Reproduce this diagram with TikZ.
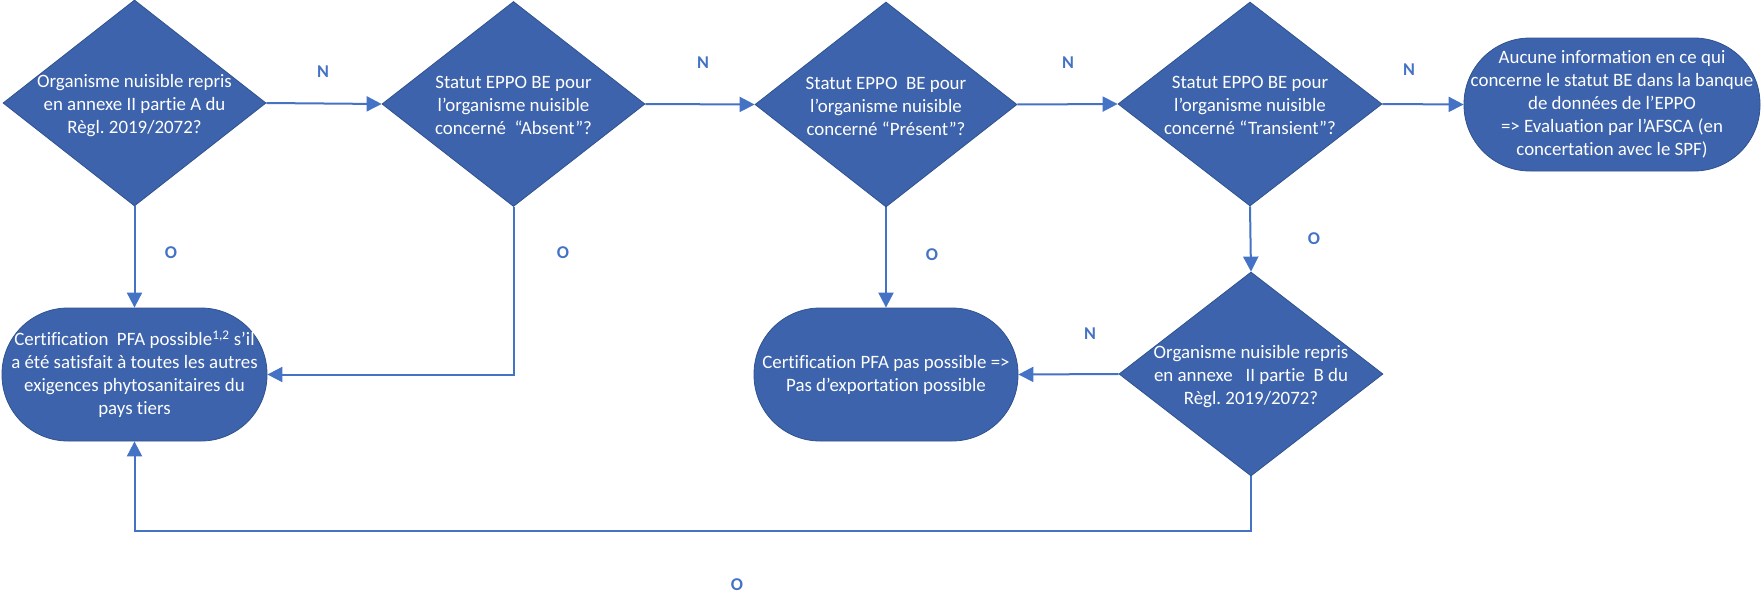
\documentclass[tikz,border=0pt]{standalone}
\usepackage{fontspec}
\setmainfont{Carlito}[Ligatures=NoCommon]
\usetikzlibrary{shapes.geometric,arrows.meta}
\definecolor{shapefill}{HTML}{3D63AC}
\definecolor{shapeline}{HTML}{2F528F}
\definecolor{linkblue}{HTML}{4472C4}
\frenchspacing
\newcommand{\ctext}[1]{\smash{\makebox[0pt]{\raisebox{-7.5pt}{\begin{tabular}{@{}c@{}}#1\end{tabular}}}}}
\tikzset{
  x=1pt, y=-1pt,
  basefont/.style={font=\fontsize{18.9}{23}\selectfont\frenchspacing, text=white},
  decision/.style={shape=diamond, draw=shapeline, line width=0.8pt, fill=shapefill,
    inner sep=0pt, basefont},
  terminal/.style={shape=rectangle, draw=shapeline, line width=0.8pt, fill=shapefill,
    rounded corners=66pt, inner sep=0pt, basefont, align=center},
  link/.style={draw=linkblue, line width=2pt, -{Triangle[width=15pt,length=15pt]}},
  lab/.style={font=\fontsize{18}{20}\selectfont\bfseries, text=linkblue, inner sep=0pt}
}
\begin{document}
\begin{tikzpicture}
\useasboundingbox (0,0) rectangle (1762,597);
% decisions
\node[decision, minimum width=263pt, minimum height=206pt] (d1) at (134.5,103)
  {\ctext{Organisme nuisible repris\\ en annexe II partie A du\\ Règl. 2019/2072?}};
\node[decision, minimum width=263pt, minimum height=205pt] (d2) at (513.5,104)
  {\ctext{Statut EPPO BE pour\\ l’organisme nuisible\\ concerné~~“Absent”?}};
\node[decision, minimum width=262pt, minimum height=205pt] (d3) at (886,104.5)
  {\ctext{Statut EPPO~~BE pour\\ l’organisme nuisible\\ concerné “Présent”?}};
\node[decision, minimum width=264pt, minimum height=204pt] (d4) at (1250,104)
  {\ctext{Statut EPPO BE pour\\ l’organisme nuisible\\ concerné “Transient”?}};
\node[decision, minimum width=264pt, minimum height=204pt] (d5) at (1251,374)
  {\ctext{Organisme nuisible repris\\ en annexe~~~II partie~~B du\\ Règl. 2019/2072?}};
% terminals
\node[terminal, minimum width=265pt, minimum height=133pt] (t1) at (134.5,374.5)
  {Certification~~PFA possible\textsuperscript{1,2} s’il\\ a été satisfait à toutes les autres\\ exigences phytosanitaires du\\ pays tiers};
\node[terminal, minimum width=264pt, minimum height=133pt] (t2) at (886,374.5)
  {Certification PFA pas possible =>\\ Pas d’exportation possible};
\node[terminal, minimum width=296pt, minimum height=133pt] (t3) at (1612,104.5)
  {Aucune information en ce qui\\ concerne le statut BE dans la banque\\ de données de l’EPPO\\ => Evaluation par l’AFSCA (en\\ concertation avec le SPF)};
% connectors
\draw[link] (d1.east) -- (d2.west);
\draw[link] (d2.east) -- (d3.west);
\draw[link] (d3.east) -- (d4.west);
\draw[link] (d4.east) -- (t3.west);
\draw[link] (d1.south) -- (t1.north);
\draw[link] (d2.south) |- (t1.east);
\draw[link] (d3.south) -- (t2.north);
\draw[link] (d4.south) -- (d5.north);
\draw[link] (d5.west) -- (t2.east);
\coordinate (loop) at (134.5,531);
\draw[link] (d5.south) |- (loop) -- (t1.south);
% labels
\node[lab] (n1) at (323,72) {N};
\node[lab] (n2) at (703,63) {N};
\node[lab] (n3) at (1068,63) {N};
\node[lab] (n4) at (1409,70) {N};
\node[lab] (n5) at (1090,334) {N};
\node[lab] (o1) at (171,253) {O};
\node[lab] (o2) at (563,253) {O};
\node[lab] (o3) at (932,255) {O};
\node[lab] (o4) at (1314,239) {O};
\node[lab] (o5) at (737,585) {O};
\end{tikzpicture}
\end{document}
